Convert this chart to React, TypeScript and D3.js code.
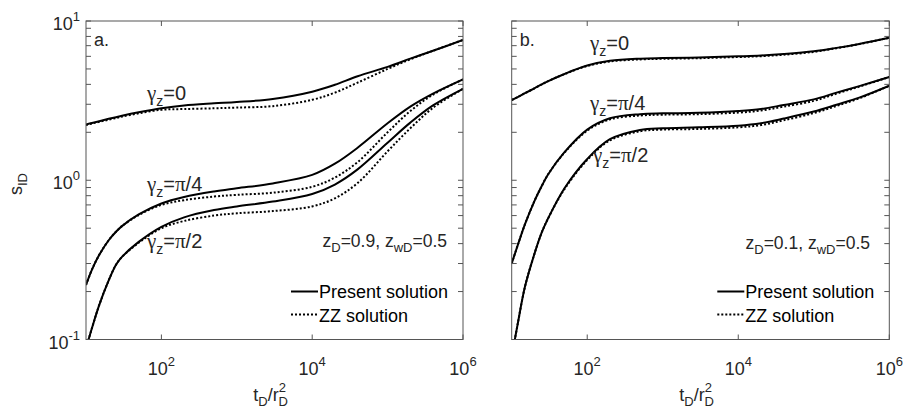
import React from 'react';
import * as d3 from 'd3';

// dimensionless time t_D / r_D^2
const tD = [10, 12, 15, 20, 25, 30, 50, 100, 200, 500, 1e3, 3e3, 1e4, 2e4, 4e4, 1e5, 2e5, 4e5, 1e6];

// panel a (zD = 0.9)
const aG0Present = [2.24, 2.29, 2.35, 2.43, 2.49, 2.54, 2.67, 2.83, 2.95, 3.04, 3.1, 3.24, 3.6, 3.98, 4.5, 5.15, 5.8, 6.5, 7.6];
const aG0ZZ = [2.22, 2.27, 2.33, 2.4, 2.46, 2.51, 2.63, 2.77, 2.8, 2.83, 2.86, 2.92, 3.2, 3.55, 4.1, 5.0, 5.75, 6.5, 7.6];
const aG4Present = [0.22, 0.275, 0.34, 0.42, 0.475, 0.515, 0.61, 0.715, 0.785, 0.85, 0.89, 0.955, 1.08, 1.27, 1.6, 2.28, 2.9, 3.5, 4.3];
const aG4ZZ = [0.22, 0.275, 0.34, 0.42, 0.475, 0.515, 0.605, 0.7, 0.75, 0.79, 0.81, 0.835, 0.91, 1.04, 1.3, 2.0, 2.72, 3.45, 4.3];
const aG2Present = [0.088, 0.118, 0.165, 0.235, 0.295, 0.33, 0.41, 0.51, 0.585, 0.65, 0.685, 0.735, 0.82, 0.94, 1.17, 1.72, 2.3, 2.95, 3.75];
const aG2ZZ = [0.088, 0.118, 0.165, 0.235, 0.295, 0.33, 0.405, 0.5, 0.555, 0.6, 0.62, 0.64, 0.685, 0.77, 0.96, 1.52, 2.12, 2.85, 3.75];

// panel b (zD = 0.1)
const bG0Present = [3.19, 3.33, 3.52, 3.78, 4.0, 4.18, 4.65, 5.25, 5.62, 5.8, 5.85, 5.9, 6.0, 6.07, 6.2, 6.45, 6.78, 7.18, 7.85];
const bG0ZZ = [3.19, 3.33, 3.52, 3.78, 4.0, 4.18, 4.64, 5.22, 5.57, 5.74, 5.79, 5.84, 5.94, 6.01, 6.14, 6.4, 6.75, 7.16, 7.85];
const bG4Present = [0.3, 0.39, 0.53, 0.74, 0.92, 1.08, 1.5, 2.08, 2.45, 2.6, 2.63, 2.65, 2.72, 2.8, 2.97, 3.22, 3.55, 3.9, 4.45];
const bG4ZZ = [0.3, 0.39, 0.53, 0.74, 0.92, 1.08, 1.49, 2.05, 2.41, 2.55, 2.58, 2.6, 2.66, 2.74, 2.9, 3.15, 3.5, 3.87, 4.45];
const bG2Present = [0.078, 0.125, 0.215, 0.345, 0.47, 0.57, 0.89, 1.36, 1.81, 2.07, 2.12, 2.15, 2.2, 2.28, 2.44, 2.7, 2.98, 3.3, 3.92];
const bG2ZZ = [0.078, 0.125, 0.215, 0.345, 0.47, 0.57, 0.88, 1.34, 1.78, 2.03, 2.08, 2.1, 2.15, 2.22, 2.38, 2.64, 2.93, 3.27, 3.92];

const xTicks = [1e2, 1e4, 1e6];
const xTickExp = ['2', '4', '6'];
const yTicks = [0.1, 1, 10];
const yTickExp = ['-1', '0', '1'];
const yMinor = [0.2, 0.3, 0.4, 0.5, 0.6, 0.7, 0.8, 0.9, 2, 3, 4, 5, 6, 7, 8, 9];

const SANS = 'Liberation Sans, Arial, Helvetica, sans-serif';
const SERIF = 'Liberation Serif, Times New Roman, serif';
const AX = '#555';
const TXT = '#262626';

type GammaLabel = { x: number; y: number; val: string };

type PanelProps = {
  id: string;
  left: number;
  right: number;
  series: { present: number[]; zz: number[] }[];
  tag: string;
  note: string;
  noteX: number;
  noteY: number;
  gammas: GammaLabel[];
  showYLabels: boolean;
};

const top = 21;
const bottom = 339.5;

const Panel = (p: PanelProps) => {
  const x = d3.scaleLog().domain([10, 1e6]).range([p.left, p.right]);
  const y = d3.scaleLog().domain([0.1, 10]).range([bottom, top]);
  const line = d3
    .line<number>()
    .x((d, i) => x(tD[i]))
    .y((d) => y(d))
    .curve(d3.curveCatmullRom.alpha(0.5));
  const lx = p.right - 172;
  return (
    <g>
      <clipPath id={'clip' + p.id}>
        <rect x={p.left} y={top} width={p.right - p.left} height={bottom - top} />
      </clipPath>
      <g clipPath={`url(#clip${p.id})`}>
        {p.series.map((s, i) => (
          <g key={i}>
            <path d={line(s.zz) || ''} fill="none" stroke="#000" strokeWidth={2} strokeDasharray="2,2" />
            <path d={line(s.present) || ''} fill="none" stroke="#000" strokeWidth={2} />
          </g>
        ))}
      </g>
      {/* box */}
      <rect x={p.left} y={top} width={p.right - p.left} height={bottom - top} fill="none" stroke={AX} strokeWidth={1} />
      {xTicks.map((t, i) => (
        <g key={'xt' + i}>
          <line x1={x(t)} x2={x(t)} y1={bottom} y2={bottom - 5} stroke={AX} />
          <line x1={x(t)} x2={x(t)} y1={top} y2={top + 5} stroke={AX} />
          <text x={x(t)} y={375} textAnchor="middle" fontSize={18} fontFamily={SANS} fill={TXT}>
            10<tspan dy={-9} fontSize={13}>{xTickExp[i]}</tspan>
          </text>
        </g>
      ))}
      {yTicks.concat(yMinor).map((t, i) => (
        <g key={'yt' + i}>
          <line x1={p.left} x2={p.left + 5} y1={y(t)} y2={y(t)} stroke={AX} />
          <line x1={p.right} x2={p.right - 5} y1={y(t)} y2={y(t)} stroke={AX} />
        </g>
      ))}
      {p.showYLabels &&
        yTicks.map((t, i) => (
          <text key={'yl' + i} x={80} y={y(t) + 9} textAnchor="end" fontSize={18} fontFamily={SANS} fill={TXT}>
            10<tspan dy={-9} fontSize={13}>{yTickExp[i]}</tspan>
          </text>
        ))}
      <text x={(p.left + p.right) / 2 - 4} y={401} textAnchor="middle" fontSize={18} fontFamily={SANS} fill={TXT}>
        t<tspan dy={5} fontSize={13}>D</tspan>
        <tspan dy={-5}>/r</tspan>
        <tspan dy={-9} fontSize={13}>2</tspan>
        <tspan dx={-7.5} dy={14} fontSize={13}>D</tspan>
      </text>
      <text x={p.left + 8} y={46} fontSize={18} fontFamily={SANS} fill={TXT}>
        {p.tag}
      </text>
      {p.gammas.map((g, i) => (
        <text key={'g' + i} x={g.x} y={g.y} fontSize={20} fontFamily={SANS} fill={TXT}>
          <tspan fontFamily={SERIF} fontSize={21}>γ</tspan>
          <tspan dy={6} fontSize={14}>z</tspan>
          <tspan dy={-6}>=</tspan>
          {g.val.split('').map((c, k) => (
            <tspan key={k} fontFamily={c === 'π' ? SERIF : SANS} fontSize={c === 'π' ? 21 : 20}>
              {c}
            </tspan>
          ))}
        </text>
      ))}
      <text x={p.noteX} y={p.noteY} textAnchor="end" fontSize={17.5} fontFamily={SANS} fill={TXT}>
        z<tspan dy={5} fontSize={13}>D</tspan>
        <tspan dy={-5}>{p.note.split('|')[0]}</tspan>
        z<tspan dy={5} fontSize={13}>wD</tspan>
        <tspan dy={-5}>{p.note.split('|')[1]}</tspan>
      </text>
      <line x1={lx} x2={lx + 27} y1={291.5} y2={291.5} stroke="#000" strokeWidth={2} />
      <line x1={lx} x2={lx + 27} y1={314.5} y2={314.5} stroke="#000" strokeWidth={2} strokeDasharray="2,2" />
      <text x={lx + 28} y={298} fontSize={18} fontFamily={SANS} fill="#000">
        Present solution
      </text>
      <text x={lx + 28} y={321.5} fontSize={18} fontFamily={SANS} fill="#000">
        ZZ solution
      </text>
    </g>
  );
};

const App = () => {
  return (
    <svg width={908} height={418} style={{ position: 'absolute', left: 0, top: 0, background: '#fff' }}>
      <rect width={908} height={418} fill="#fff" />
      <Panel
        id="a"
        left={86}
        right={463}
        tag="a."
        note="=0.9, |=0.5"
        noteX={447}
        noteY={247}
        showYLabels={true}
        series={[
          { present: aG0Present, zz: aG0ZZ },
          { present: aG4Present, zz: aG4ZZ },
          { present: aG2Present, zz: aG2ZZ },
        ]}
        gammas={[
          { x: 147, y: 100, val: '0' },
          { x: 147, y: 191, val: 'π/4' },
          { x: 147, y: 248, val: 'π/2' },
        ]}
      />
      <Panel
        id="b"
        left={511.7}
        right={889.3}
        tag="b."
        note="=0.1, |=0.5"
        noteX={870}
        noteY={249}
        showYLabels={false}
        series={[
          { present: bG0Present, zz: bG0ZZ },
          { present: bG4Present, zz: bG4ZZ },
          { present: bG2Present, zz: bG2ZZ },
        ]}
        gammas={[
          { x: 590, y: 50, val: '0' },
          { x: 590, y: 110, val: 'π/4' },
          { x: 593, y: 162, val: 'π/2' },
        ]}
      />
      <text x={22} y={184} transform="rotate(-90 22 184)" textAnchor="middle" fontSize={18} fontFamily={SANS} fill={TXT}>
        s<tspan dy={5} fontSize={13}>ID</tspan>
      </text>
    </svg>
  );
};

export default App;
